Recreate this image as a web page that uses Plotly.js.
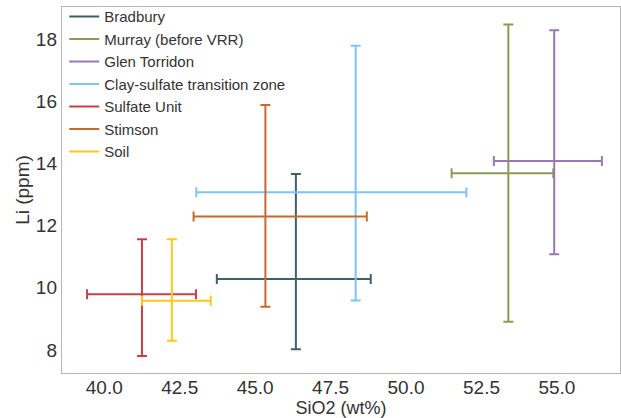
<!DOCTYPE html>
<html>
<head>
<meta charset="utf-8">
<script src="https://cdn.plot.ly/plotly-3.0.1.min.js"></script>
<style>html,body{margin:0;padding:0;background:#fff;}#chart{width:621px;height:418px;}</style>
</head>
<body>
<div id="chart"></div>
<script>
// Units
const units = ["Bradbury", "Murray (before VRR)", "Glen Torridon", "Clay-sulfate transition zone", "Sulfate Unit", "Stimson", "Soil"];
// SiO2 (wt%) centre values and errors (minus / plus)
const sio2 = [46.35, 53.39, 54.91, 48.33, 41.25, 45.34, 42.24];
const sio2ErrMinus = [2.62, 1.88, 2.00, 5.28, 1.82, 2.38, 0.99];
const sio2ErrPlus  = [2.48, 1.49, 1.58, 3.67, 1.79, 3.36, 1.29];
// Li (ppm) centre values and errors (minus / plus)
const li = [10.28, 13.68, 14.08, 13.07, 9.79, 12.29, 9.58];
const liErrMinus = [2.26, 4.77, 3.00, 3.48, 1.98, 2.90, 1.28];
const liErrPlus  = [3.38, 4.79, 4.20, 4.71, 1.77, 3.59, 1.98];
const colors = ["#3d606b", "#8c9a55", "#9a78b4", "#7fc3fb", "#c83f4c", "#c9692a", "#ffc61c"];

const xTicks = [40.0, 42.5, 45.0, 47.5, 50.0, 52.5, 55.0];
const xTickText = ["40.0", "42.5", "45.0", "47.5", "50.0", "52.5", "55.0"];
const yTicks = [8, 10, 12, 14, 16, 18];

const font = "Liberation Sans, Arial, sans-serif";
const traces = units.map((u, i) => ({
  type: "scatter",
  mode: "lines",
  name: u,
  x: [sio2[i]],
  y: [li[i]],
  line: {color: colors[i], width: 2},
  error_x: {type: "data", symmetric: false, array: [sio2ErrPlus[i]], arrayminus: [sio2ErrMinus[i]], color: colors[i], thickness: 2, width: 5},
  error_y: {type: "data", symmetric: false, array: [liErrPlus[i]], arrayminus: [liErrMinus[i]], color: colors[i], thickness: 2, width: 5}
}));

const layout = {
  width: 621, height: 418,
  margin: {l: 62, r: 1, t: 6, b: 45},
  paper_bgcolor: "#fff", plot_bgcolor: "#fff",
  font: {family: font, color: "#333"},
  showlegend: true,
  legend: {x: 0.004, y: 1.016, xanchor: "left", yanchor: "top", bgcolor: "rgba(255,255,255,0)",
           font: {size: 15, color: "#333", family: font}, itemwidth: 30, tracegroupgap: 0},
  xaxis: {range: [38.6, 57.09], tickvals: xTicks, ticktext: xTickText, ticks: "", showgrid: false, zeroline: false,
          showline: true, mirror: true, linecolor: "#b5b5b5", linewidth: 1.2, ticklabelstandoff: -3,
          tickfont: {size: 19, color: "#333"},
          title: {text: "SiO2 (wt%)", font: {size: 18, color: "#333"}, standoff: 2}},
  yaxis: {range: [7.26, 19.03], tickvals: yTicks, ticks: "", showgrid: false, zeroline: false,
          showline: true, mirror: true, linecolor: "#b5b5b5", linewidth: 1.2,
          tickfont: {size: 19, color: "#333"},
          title: {text: "Li (ppm)", font: {size: 19, color: "#333"}, standoff: 1}}
};

Plotly.newPlot("chart", traces, layout, {displayModeBar: false, staticPlot: true});
</script>
</body>
</html>
